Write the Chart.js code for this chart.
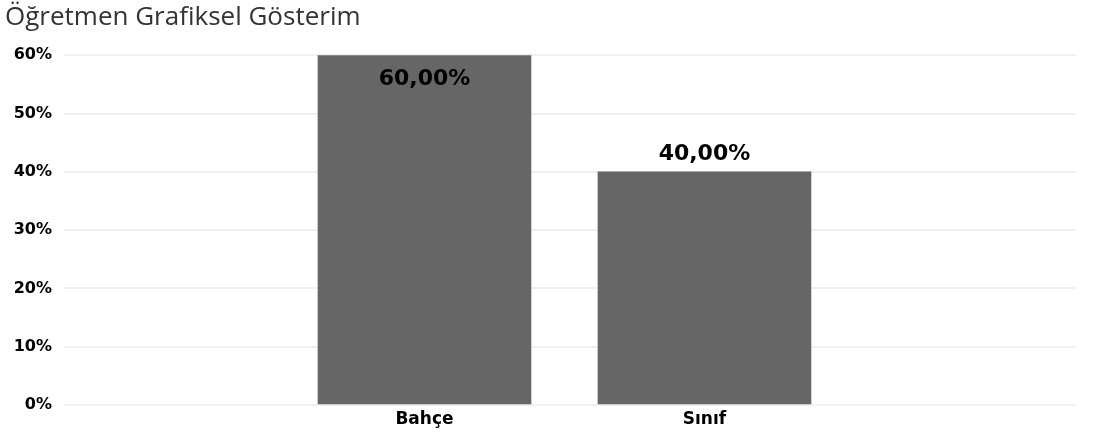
<!DOCTYPE html>
<html>
<head>
<meta charset="utf-8">
<script src="https://cdn.jsdelivr.net/npm/chart.js@4"></script>
<style>
  html, body { margin: 0; padding: 0; background: #fff; }
  #wrap { width: 1095px; height: 437px; position: relative; }
</style>
</head>
<body>
<div id="wrap"><canvas id="grafik"></canvas></div>
<script>
const baslik = 'Öğretmen Grafiksel Gösterim';
const kategoriler = ['Bahçe', 'Sınıf'];
const yuzdeler = [60, 40];
const yTikler = [0, 10, 20, 30, 40, 50, 60];

const etiketFont = '"DejaVu Sans", Verdana, sans-serif';

function yuzdeYaz(v) {
    return v.toFixed(2).replace('.', ',') + '%';
}

// bar ustu / ici yuzde etiketleri
const degerEtiketi = {
    id: 'degerEtiketi',
    afterDatasetsDraw(chart) {
        const ctx = chart.ctx;
        const meta = chart.getDatasetMeta(0);
        ctx.save();
        ctx.font = 'bold 22px ' + etiketFont;
        ctx.fillStyle = '#000';
        ctx.textAlign = 'center';
        ctx.textBaseline = 'middle';
        meta.data.forEach((bar, i) => {
            const txt = yuzdeYaz(yuzdeler[i]);
            let y = bar.y - 18;
            if (y - 12 < chart.chartArea.top) y = bar.y + 24;
            ctx.fillText(txt, bar.x, y);
        });
        ctx.restore();
    }
};

new Chart(document.getElementById('grafik').getContext('2d'), {
    type: 'bar',
    data: {
        datasets: [{
            data: kategoriler.map((k, i) => ({ x: i, y: yuzdeler[i] })),
            backgroundColor: '#666666',
            barThickness: 213
        }]
    },
    options: {
        responsive: true,
        maintainAspectRatio: false,
        animation: false,
        layout: { padding: { left: 5, right: 19, bottom: 0 } },
        plugins: {
            legend: { display: false },
            tooltip: { enabled: false },
            title: {
                display: true,
                text: baslik,
                align: 'start',
                color: '#333',
                font: { family: '"Open Sans", sans-serif', size: 26, weight: 'normal' },
                padding: { top: 2, bottom: 22 }
            }
        },
        scales: {
            x: {
                type: 'linear',
                offset: false,
                min: -1.2875,
                max: 2.327,
                grid: { display: false, drawTicks: false },
                border: { display: false },
                afterFit: s => { s.height = 32; },
                afterBuildTicks: s => { s.ticks = kategoriler.map((k, i) => ({ value: i })); },
                ticks: {
                    padding: 4,
                    color: '#000',
                    maxRotation: 0,
                    autoSkip: false,
                    font: { family: etiketFont, size: 17, weight: 'bold' },
                    callback: v => kategoriler[v]
                }
            },
            y: {
                min: 0,
                max: 60,
                afterFit: s => { s.width = 59; },
                afterBuildTicks: s => { s.ticks = yTikler.map(v => ({ value: v })); },
                grid: { color: '#f0f0f0', lineWidth: 2, drawTicks: false },
                border: { display: false },
                ticks: {
                    padding: 12,
                    color: '#000',
                    font: { family: etiketFont, size: 16, weight: 'bold' },
                    callback: v => v + '%'
                }
            }
        }
    },
    plugins: [degerEtiketi]
});
</script>
</body>
</html>
